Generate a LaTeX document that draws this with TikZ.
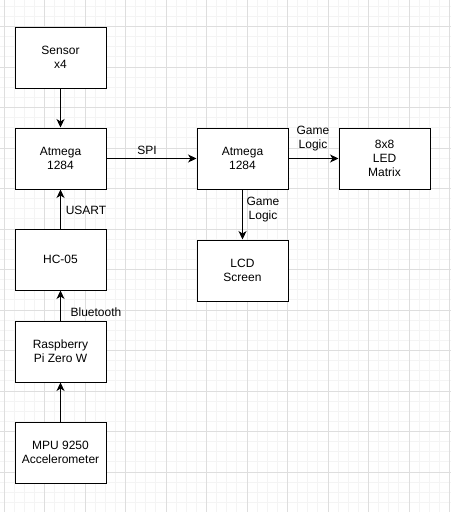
\documentclass[tikz,border=0pt]{standalone}
\usepackage{fontspec}
\usetikzlibrary{arrows.meta}
\setmainfont{Liberation Sans}
\definecolor{gridmajor}{HTML}{DEDEDE}
\definecolor{gridminor}{HTML}{F4F4F4}
\tikzset{
  block/.style={draw=black, line width=1pt, fill=white, minimum width=91pt, minimum height=61pt, align=center, font=\fontsize{12}{14}\selectfont},
  lbl/.style={align=center, inner sep=0pt, font=\fontsize{12}{14}\selectfont},
}
\begin{document}
\begin{tikzpicture}[>={Stealth[length=8.5pt,width=8pt,inset=2.5pt]}, x=1pt, y=-1pt]
       \useasboundingbox (0,0) rectangle (451,512);
       \fill [white] (0,0) rectangle (451,512);
       % background grid
       \foreach \i in {0,...,44} \draw [gridminor, line width=0.8pt] (4+\i*10.125,0) -- (4+\i*10.125,512);
       \foreach \i in {0,...,50} \draw [gridminor, line width=0.8pt] (0,6.25+\i*10.125) -- (451,6.25+\i*10.125);
       \foreach \i in {0,...,11} \draw [gridmajor, line width=0.8pt] (4+\i*40.5,0) -- (4+\i*40.5,512);
       \foreach \i in {0,...,12} \draw [gridmajor, line width=0.8pt] (0,26.5+\i*40.5) -- (451,26.5+\i*40.5);
       % blocks
       \node [block] (sensor) at (60.5,57.5) {Sensor\\x4};
       \node [block] (atmegaA) at (60.5,158.5) {Atmega\\1284};
       \node [block] (hc) at (60.5,259.5) {HC-05};
       \node [block] (rpi) at (60.5,351.5) {Raspberry\\Pi Zero W};
       \node [block] (mpu) at (60.5,452.5) {MPU 9250\\Accelerometer};
       \node [block] (atmegaB) at (242.5,158.5) {Atmega\\1284};
       \node [block] (led) at (384.5,158.5) {8x8\\LED\\Matrix};
       \node [block] (lcd) at (242.5,270.5) {LCD\\Screen};
       % connections
       \draw [->, line width=1pt] (sensor) -- (atmegaA);
       \draw [->, line width=1pt] (hc) -- (atmegaA);
       \draw [->, line width=1pt] (rpi) -- (hc);
       \draw [->, line width=1pt] (mpu) -- (rpi);
       \draw [->, line width=1pt] (atmegaA) -- (atmegaB);
       \draw [->, line width=1pt] (atmegaB) -- (led);
       \draw [->, line width=1pt] (atmegaB) -- (lcd);
       % labels
       \node [lbl] (spi) at (147,150) {SPI};
       \node [lbl] (usart) at (86,210) {USART};
       \node [lbl] (bt) at (96,312) {Bluetooth};
       \node [lbl] (gameA) at (313,139) {Game\\Logic};
       \node [lbl] (gameB) at (263,210) {Game\\Logic};
\end{tikzpicture}
\end{document}
